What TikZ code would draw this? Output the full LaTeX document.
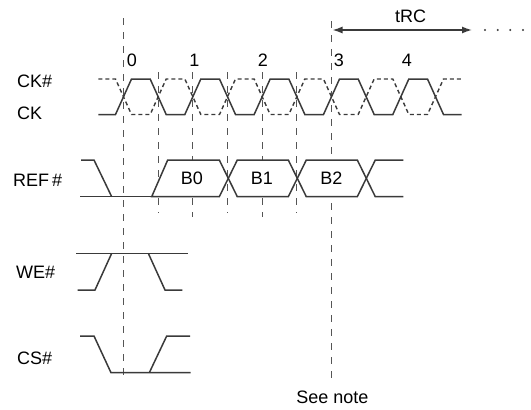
\documentclass[tikz,border=0pt]{standalone}
\usepackage{fontspec}
\setmainfont{Liberation Sans}
\usetikzlibrary{arrows.meta}
\definecolor{sigc}{HTML}{3A3A3A}
\definecolor{guidec}{HTML}{555555}
\tikzset{
  sig/.style={draw=sigc, line width=1.5pt, line join=miter},
  ckn/.style={draw=sigc, line width=1.4pt, dash pattern=on 4pt off 3pt},
  guide/.style={draw=guidec, line width=1.15pt, dash pattern=on 7pt off 7pt},
  lbl/.style={inner sep=0pt, font=\fontsize{18}{20}\selectfont, text=black},
  sig box/.style={sig, fill=white},
}
\begin{document}
\begin{tikzpicture}[x=1pt,y=-1pt]
\useasboundingbox (0,0) rectangle (531,410);
% guide lines
\draw[guide] (123.5,18) -- (123.5,378);
\draw[guide] (331.5,21) -- (331.5,378);
\foreach \k/\e in {1/213,2/217,3/213,4/217,5/213}
  \draw[guide] ({123.5+34.667*\k},72) -- ({123.5+34.667*\k},\e);
% labels
\node[lbl, anchor=west] (ckn) at (17,81.7) {CK\#};
\node[lbl, anchor=west] (ck) at (17,113.3) {CK};
\node[lbl, anchor=west] (ref) at (13,180) {REF\,\#};
\node[lbl, anchor=west] (we) at (16,272) {WE\#};
\node[lbl, anchor=west] (cs) at (17,358) {CS\#};
\node[lbl] (n0) at (132,60) {0};
\node[lbl] (n1) at (194.5,60) {1};
\node[lbl] (n2) at (263,60) {2};
\node[lbl] (n3) at (339,60) {3};
\node[lbl] (n4) at (407,60) {4};
\node[lbl] (trc) at (410.5,16.7) {tRC};
\node[lbl] (note) at (332.5,397) {See note};
% tRC arrow
\coordinate (a1) at (332.5,30);
\coordinate (a2) at (472,30);
\draw[draw=sigc, line width=1.4pt, {Latex[length=10pt,width=7pt]}-{Latex[length=10pt,width=7pt]}] (a1) -- (a2);
\foreach \x in {485,497.7,510.3,523}
  \fill[sigc] (\x,30) circle (1.1pt);
% clocks
\draw[sig] (98.3,114.5) foreach \m in {0,...,4} {
  -- ({115.5+69.333*\m},114.5) -- ({131.5+69.333*\m},79)
  -- ({150.17+69.333*\m},79) -- ({166.17+69.333*\m},114.5) } -- (461.7,114.5);
\draw[ckn] (98.3,79) foreach \m in {0,...,4} {
  -- ({115.5+69.333*\m},79) -- ({131.5+69.333*\m},114.5)
  -- ({150.17+69.333*\m},114.5) -- ({166.17+69.333*\m},79) } -- (461.7,79);
% REF#
\draw[sig] (81,160) -- (94,160) -- (111.7,196.7);
\draw[sig] (80,196.7) -- (152,196.7);
\draw[sig box] (151.7,196.7) -- (167.7,160) -- (219.3,160) -- (228.3,178.35) -- (219.3,196.7) -- cycle;
\draw[sig box] (228.3,178.35) -- (237.3,160) -- (288.3,160) -- (297.3,178.35) -- (288.3,196.7) -- (237.3,196.7) -- cycle;
\draw[sig box] (297.3,178.35) -- (306.3,160) -- (357.3,160) -- (366.3,178.35) -- (357.3,196.7) -- (306.3,196.7) -- cycle;
\draw[sig] (366.3,178.35) -- (375.3,160) -- (403.3,160);
\draw[sig] (366.3,178.35) -- (375.3,196.7) -- (403.3,196.7);
\node[lbl] (b0) at (192,178.3) {B0};
\node[lbl] (b1) at (262,178.3) {B1};
\node[lbl] (b2) at (331.5,178.3) {B2};
% WE#
\draw[sig] (76,253.3) -- (187.7,253.3);
\draw[sig] (77.7,290) -- (95,290) -- (111.7,253.3);
\draw[sig] (148.3,253.3) -- (165,290) -- (182.3,290);
% CS#
\draw[sig] (80,336) -- (94,336) -- (111,372.7) -- (190.7,372.7);
\draw[sig] (149.3,372.7) -- (166.7,336) -- (190,336);
\end{tikzpicture}
\end{document}
